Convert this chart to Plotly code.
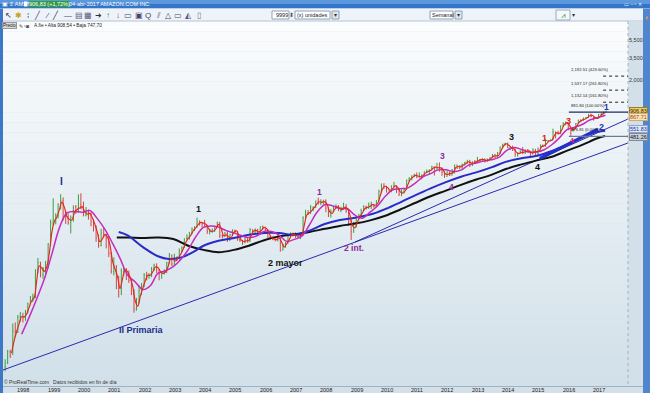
import math
import pandas as pd
import plotly.graph_objects as go

# ---------------- DATA ----------------
# monthly bars, Jun-1997 .. Apr-2017 (split adjusted prices)
bar_close = [
    1.55, 2.05, 1.90, 3.45, 3.35, 4.95, 5.02,
    4.9, 5.7, 6.9, 7.9, 8.2, 16.3, 19.6, 14.4, 16.9, 18.7, 31.5, 53.5,
    58.5, 64.5, 86.0, 94.5, 62.7, 62.6, 54.0, 61.3, 79.6, 70.6, 85.1, 76.1,
    64.6, 68.9, 67.0, 55.2, 48.3, 36.3, 30.1, 41.5, 38.4, 36.0, 24.8, 15.6,
    17.3, 10.2, 10.2, 15.8, 16.7, 14.2, 12.5, 8.9, 6.0, 7.0, 9.7, 10.8,
    14.2, 14.1, 14.3, 16.7, 18.2, 16.3, 14.8, 14.9, 15.9, 19.4, 23.4, 18.9,
    21.9, 22.0, 26.0, 28.7, 35.9, 36.3, 41.6, 46.0, 48.4, 54.4, 54.0, 52.6,
    50.4, 43.0, 43.3, 43.6, 48.5, 54.4, 38.9, 38.1, 40.9, 34.1, 39.7, 44.3,
    43.2, 35.2, 34.3, 32.4, 35.5, 33.1, 45.0, 42.7, 45.3, 39.9, 48.5, 47.2,
    45.2, 37.4, 36.5, 35.2, 34.6, 38.7, 26.9, 30.8, 32.1, 38.1, 40.3, 39.5,
    37.7, 39.1, 39.8, 61.3, 69.1, 68.4, 78.5, 79.9, 93.2, 89.2, 90.6, 92.6,
    77.7, 64.5, 71.3, 78.6, 81.6, 73.3, 76.3, 81.0, 72.8, 57.2, 42.7, 51.3,
    58.8, 64.8, 73.4, 80.5, 77.9, 83.7, 85.8, 81.2, 93.4, 118.8, 135.9, 134.5,
    125.4, 118.4, 135.8, 137.1, 125.5, 109.3, 117.9, 124.8, 157.1, 165.2, 175.4, 180.0,
    169.6, 173.3, 180.1, 196.7, 196.7, 204.5, 222.5, 215.0, 216.2, 213.5, 192.3, 173.1,
    194.4, 179.7, 202.5, 231.9, 212.9, 228.4, 233.3, 248.3, 254.3, 232.9, 252.1, 250.9,
    265.5, 264.3, 266.5, 253.8, 269.2, 277.7, 301.2, 281.0, 312.6, 364.0, 393.6, 398.8,
    358.7, 362.1, 336.4, 304.1, 312.6, 324.8, 313.0, 339.0, 322.4, 305.5, 338.6, 310.4,
    354.5, 380.2, 372.1, 421.8, 429.2, 434.1, 536.2, 512.9, 511.9, 625.9, 664.8, 675.9,
    587.0, 552.5, 593.6, 659.6, 722.8, 715.6, 758.8, 769.2, 837.3, 789.8, 750.6, 749.9,
    823.5, 845.0, 886.5, 906.83,
]
bar_high = [
    1.7, 2.15, 2.15, 4.2, 4.3, 5.2, 5.6,
    5.5, 5.9, 7.1, 8.4, 8.9, 16.5, 22.0, 20.0, 17.5, 20.5, 32.0, 58.0,
    99.6, 68.0, 87.5, 110.6, 102.0, 72.5, 68.0, 64.5, 83.3, 84.0, 110.0, 113.0,
    91.5, 80.0, 75.0, 70.0, 59.0, 50.0, 40.0, 46.0, 47.0, 41.0, 38.5, 25.5,
    22.4, 18.4, 14.0, 16.9, 17.2, 17.0, 16.0, 13.0, 10.0, 8.0, 11.0, 11.7,
    15.0, 15.5, 15.0, 17.5, 19.0, 19.2, 16.5, 15.8, 16.5, 20.0, 25.0, 24.0,
    24.5, 23.0, 28.0, 29.5, 36.0, 40.0, 42.5, 47.5, 49.0, 61.0, 57.0, 54.0,
    57.8, 51.0, 46.0, 46.5, 49.5, 54.9, 54.5, 40.0, 42.5, 43.5, 40.5, 45.5,
    45.0, 43.5, 36.5, 34.5, 38.0, 36.5, 47.0, 45.5, 46.5, 46.0, 49.0, 50.0,
    48.5, 45.5, 38.0, 38.0, 36.0, 39.0, 39.0, 31.5, 33.0, 38.5, 42.0, 42.0,
    42.0, 41.5, 40.5, 63.0, 74.5, 74.0, 84.0, 81.0, 93.5, 101.0, 97.0, 96.0,
    97.0, 79.0, 75.5, 82.0, 85.5, 84.0, 80.5, 89.0, 86.0, 73.0, 58.0, 55.0,
    60.0, 67.0, 76.5, 83.5, 82.5, 89.5, 91.5, 86.0, 94.5, 124.0, 145.0, 145.9,
    136.6, 122.0, 138.0, 151.0, 139.0, 129.0, 125.0, 128.0, 160.0, 170.0, 177.5, 185.0,
    191.6, 191.5, 182.0, 197.0, 206.4, 206.0, 227.0, 220.0, 244.0, 246.7, 218.0, 195.0,
    197.0, 196.0, 209.0, 232.0, 232.0, 229.0, 240.0, 250.0, 264.0, 264.0, 254.0, 262.0,
    284.0, 270.0, 276.0, 274.0, 272.0, 283.0, 305.0, 305.0, 322.0, 369.0, 394.0, 405.6,
    408.0, 365.0, 378.0, 349.0, 315.0, 336.0, 365.0, 343.0, 347.0, 321.0, 353.0, 348.0,
    358.0, 389.0, 389.0, 452.0, 434.0, 441.0, 580.0, 539.0, 550.0, 627.0, 679.0, 696.0,
    675.0, 596.0, 596.0, 669.0, 724.0, 731.0, 767.0, 774.0, 839.0, 847.0, 791.0, 781.0,
    843.0, 860.0, 890.0, 908.54,
]
bar_low = [
    1.25, 1.5, 1.75, 1.9, 3.0, 3.3, 4.4,
    4.3, 4.5, 5.4, 6.9, 7.2, 8.0, 15.0, 13.5, 13.0, 13.5, 16.8, 30.0,
    50.0, 51.5, 60.0, 75.0, 57.0, 52.0, 51.0, 41.0, 55.0, 67.0, 69.0, 75.5,
    63.0, 63.0, 58.0, 49.0, 43.0, 33.0, 28.5, 29.5, 37.0, 28.0, 22.5, 14.8,
    14.2, 10.0, 8.1, 8.6, 14.0, 12.6, 11.7, 8.6, 5.5, 5.8, 7.0, 8.6,
    10.5, 12.5, 13.0, 13.5, 16.0, 15.0, 12.5, 13.0, 14.5, 15.0, 19.0, 18.0,
    18.5, 20.5, 21.0, 25.5, 28.5, 35.0, 35.0, 40.0, 43.5, 47.5, 50.0, 47.5,
    48.0, 40.5, 40.0, 41.5, 42.5, 48.0, 36.5, 36.0, 37.5, 33.0, 34.0, 39.0,
    41.5, 34.0, 33.0, 30.6, 32.0, 32.5, 33.0, 41.5, 41.5, 38.5, 39.5, 45.5,
    43.5, 36.5, 35.0, 34.5, 33.5, 33.5, 25.8, 26.5, 28.5, 31.5, 37.0, 38.0,
    36.5, 36.5, 35.5, 40.5, 60.0, 65.5, 67.0, 72.0, 78.0, 85.0, 84.0, 85.0,
    70.0, 62.0, 61.0, 70.5, 76.5, 72.0, 70.0, 75.0, 69.0, 49.5, 34.7, 41.5,
    47.5, 59.0, 61.0, 72.0, 75.0, 76.5, 76.0, 78.5, 79.5, 92.0, 114.0, 126.5,
    115.0, 113.0, 116.0, 134.0, 114.0, 105.8, 105.0, 113.0, 123.0, 152.0, 157.0, 170.0,
    166.0, 169.5, 160.6, 176.0, 188.5, 181.0, 201.0, 177.0, 204.5, 195.0, 176.0, 167.0,
    172.0, 175.0, 177.0, 186.0, 210.0, 208.0, 211.0, 228.0, 239.0, 219.0, 225.0, 241.0,
    250.0, 251.0, 251.0, 246.0, 251.0, 265.0, 277.0, 278.0, 282.0, 306.0, 352.0, 380.0,
    354.0, 339.0, 330.0, 284.0, 285.0, 311.0, 304.0, 307.0, 316.0, 284.0, 303.0, 298.0,
    285.0, 350.0, 367.0, 368.0, 420.0, 422.0, 430.0, 452.0, 497.0, 505.0, 608.0, 632.0,
    556.0, 474.0, 538.0, 585.0, 656.0, 682.0, 713.0, 752.0, 762.0, 774.0, 710.0, 740.0,
    753.0, 803.0, 833.0, 884.0,
]
first_open = 1.40

# short moving average (red), month ends Aug-1997 .. Apr-2017
red_ma = [
    1.98, 2.68, 3.40, 4.15, 4.99,
    4.96, 5.30, 6.30, 7.40, 8.05, 12.3, 18.0, 17.0, 15.7, 17.8, 25.1, 42.5,
    56.0, 61.5, 75.3, 90.3, 78.6, 62.7, 58.3, 57.7, 70.5, 75.1, 77.9, 80.6,
    70.4, 66.8, 68.0, 61.1, 51.8, 42.3, 33.2, 35.8, 40.0, 37.2, 30.4, 20.2,
    16.5, 13.8, 10.2, 13.0, 16.3, 15.5, 13.4, 10.7, 7.45, 6.50, 8.35, 10.3,
    12.5, 14.2, 14.2, 15.5, 17.5, 17.3, 15.6, 14.9, 15.4, 17.7, 21.4, 21.2,
    20.4, 22.0, 24.0, 27.4, 32.3, 36.1, 39.0, 43.8, 47.2, 51.4, 54.2, 53.3,
    51.5, 46.7, 43.2, 43.5, 46.1, 51.5, 46.7, 38.5, 39.5, 37.5, 36.9, 42.0,
    43.8, 39.2, 34.8, 33.4, 34.0, 34.3, 39.1, 43.9, 44.0, 42.6, 44.2, 47.9,
    46.2, 41.3, 37.0, 35.9, 34.9, 36.7, 32.8, 28.9, 31.5, 35.1, 39.2, 39.9,
    38.6, 38.4, 39.5, 50.6, 65.2, 68.8, 73.5, 79.2, 86.6, 91.2, 89.9, 91.6,
    85.2, 71.1, 67.9, 75.0, 80.1, 77.5, 74.8, 78.7, 76.9, 65.0, 50.0, 47.0,
    55.1, 61.8, 69.1, 77.0, 79.2, 80.8, 84.8, 83.5, 87.3, 106.1, 127.4, 135.2,
    130.0, 121.9, 127.1, 136.5, 131.3, 117.4, 113.6, 121.4, 141.0, 161.2, 170.3, 177.7,
    174.8, 171.5, 176.7, 188.4, 196.7, 200.6, 213.5, 218.8, 215.6, 214.9, 202.9, 182.7,
    183.8, 187.1, 191.1, 217.2, 222.4, 220.7, 230.9, 240.8, 251.3, 243.6, 242.5, 251.5,
    258.2, 264.9, 265.4, 260.2, 261.5, 273.5, 289.5, 291.1, 296.8, 338.3, 378.8, 396.2,
    378.8, 360.4, 349.3, 320.3, 308.4, 318.7, 318.9, 326.0, 330.7, 314.0, 322.1, 324.5,
    332.5, 367.4, 376.2, 397.0, 425.5, 431.7, 485.2, 524.6, 512.4, 568.9, 645.4, 670.4,
    631.5, 569.8, 573.1, 626.6, 691.2, 719.2, 737.2, 764.0, 803.3, 813.6, 770.2, 750.3,
    786.7, 834.3, 865.8, 870.0,
]

# medium moving average (magenta), quarter ends Dec-1997 .. Mar-2017, then Apr-2017
magenta_ma = [
    3.2, 4.9, 7.8, 12.9, 24.4,
    47.1, 68.9, 71.5, 69.9,
    73.1, 59.5, 45.3, 31.8,
    21.8, 14.3, 12.0, 9.9,
    10.9, 14.9, 15.9, 17.7,
    21.1, 27.1, 37.6, 47.6,
    49.4, 48.0, 44.0, 41.5,
    38.8, 36.9, 38.3, 43.1,
    42.9, 39.3, 33.5, 35.2,
    38.1, 50.7, 70.0, 84.6,
    82.7, 77.1, 76.4, 64.9,
    60.1, 70.1, 82.3, 104.8,
    123.2, 126.6, 129.6, 147.1,
    171.5, 185.8, 204.5, 205.3,
    196.0, 203.3, 230.2, 242.9,
    255.2, 264.0, 280.3, 332.7,
    360.9, 342.5, 321.8, 322.0,
    340.5, 386.0, 459.7, 566.0,
    601.7, 643.9, 722.4, 767.3,
    811.8, 822.0,
]

# long weighted moving average (blue)
blue_dates = ["2001-03-15", "2001-07-01", "2002-01-01", "2002-07-01", "2002-11-07",
              "2003-04-20", "2003-09-12", "2004-01-01", "2004-07-01", "2005-01-01",
              "2005-07-01", "2006-01-01", "2006-07-01", "2007-01-01", "2007-07-01",
              "2008-01-01", "2008-07-01", "2009-01-01", "2009-07-01", "2010-01-01",
              "2010-07-01", "2011-01-01", "2011-07-01", "2012-01-01", "2012-07-01",
              "2013-01-01", "2013-07-01", "2014-01-01", "2014-07-01", "2015-01-01",
              "2015-07-01", "2016-01-01", "2016-07-01", "2017-01-01", "2017-04-04"]
blue_ma = [42.5, 39.0, 29.0, 23.0, 21.5, 22.5, 26.0, 30.0, 34.0, 36.5,
           39.5, 41.5, 41.5, 39.5, 44.0, 52.0, 57.5, 61.0, 66.0, 76.0,
           90.0, 108.0, 128.0, 150.0, 172.0, 192.0, 218.0, 252.0, 275.0, 292.0,
           330.0, 390.0, 465.0, 535.0, 551.83]

# long simple moving average (black)
black_dates = ["2001-02-20", "2001-07-01", "2002-01-01", "2002-07-01", "2003-01-01",
               "2003-07-01", "2004-01-01", "2004-07-01", "2005-01-01", "2005-07-01",
               "2006-01-01", "2006-07-01", "2007-01-01", "2007-07-01", "2008-01-01",
               "2008-07-01", "2009-01-01", "2009-07-01", "2010-01-01", "2010-07-01",
               "2011-01-01", "2011-07-01", "2012-01-01", "2012-07-01", "2013-01-01",
               "2013-07-01", "2014-01-01", "2014-07-01", "2015-01-01", "2015-07-01",
               "2016-01-01", "2016-07-01", "2017-01-01", "2017-04-04"]
black_ma = [37.0, 37.0, 36.5, 37.0, 35.5, 30.0, 27.0, 25.5, 27.0, 30.0,
            34.5, 38.0, 40.0, 42.5, 46.0, 49.5, 52.5, 57.0, 64.0, 75.0,
            89.0, 105.0, 121.0, 140.0, 160.0, 180.0, 210.0, 235.0, 260.0, 285.0,
            333.0, 385.0, 455.0, 481.26]

# hand drawn trend lines (two end points each)
trend_primary = (["1997-05-20", "2018-01-04"], [1.292, 403.6])
trend_intermediate = (["2009-01-01", "2018-01-04"], [32.96, 740.5])
trend_thick = (["2015-02-06", "2017-01-08"], [272.7, 573.8])

# fibonacci extension levels
fib_levels = [476.81, 881.84, 1132.14, 1537.17, 2192.51]
fib_pct = ["0.00%", "100.00%", "161.80%", "261.80%", "423.60%"]

# price-axis tick labels
y_tick_vals = [2000, 3500, 5500]
y_tick_text = ["2,000", "3,500", "5,500"]
year_labels = [str(y) for y in range(1998, 2018)]

last_price = 906.83
red_last_label = "867.71"
blue_last = 551.83
black_last = 481.26

# ---------------- derived x positions ----------------
bar_dates = pd.date_range("1997-06-01", periods=len(bar_close), freq="MS") + pd.Timedelta(days=14)
bar_open = [first_open] + bar_close[:-1]
red_dates = list(pd.date_range("1997-09-01", periods=len(red_ma) - 1, freq="MS") - pd.Timedelta(days=1)) + [pd.Timestamp("2017-04-04")]
mag_dates = list(pd.date_range("1998-01-01", periods=len(magenta_ma) - 1, freq="QS") - pd.Timedelta(days=1)) + [pd.Timestamp("2017-04-04")]

# ---------------- figure ----------------
W, H = 650, 393
L, R, T, B = 3, 628, 21, 386


def PX(px):
    return (px - L) / (R - L)


def PY(py):
    return (B - py) / (B - T)


fig = go.Figure()

fig.add_trace(go.Ohlc(
    x=bar_dates, open=bar_open, high=bar_high, low=bar_low, close=bar_close,
    increasing=dict(line=dict(color="#3d9f3d", width=1)),
    decreasing=dict(line=dict(color="#d24848", width=1)),
    tickwidth=0.25, hoverinfo="skip"))

line_color = "#2a2ab0"
fig.add_trace(go.Scatter(x=trend_primary[0], y=trend_primary[1], mode="lines",
                         line=dict(color=line_color, width=1), hoverinfo="skip"))
fig.add_trace(go.Scatter(x=trend_intermediate[0], y=trend_intermediate[1], mode="lines",
                         line=dict(color=line_color, width=1), hoverinfo="skip"))
fig.add_trace(go.Scatter(x=black_dates, y=black_ma, mode="lines", line_shape="spline",
                         line=dict(color="#111111", width=2), hoverinfo="skip"))
fig.add_trace(go.Scatter(x=blue_dates, y=blue_ma, mode="lines", line_shape="spline",
                         line=dict(color="#2b2bc8", width=2), hoverinfo="skip"))
fig.add_trace(go.Scatter(x=trend_thick[0], y=trend_thick[1], mode="lines",
                         line=dict(color="#2430c8", width=3.2), hoverinfo="skip"))
fig.add_trace(go.Scatter(x=mag_dates, y=magenta_ma, mode="lines", line_shape="spline",
                         line=dict(color="#c42cc0", width=1.5), hoverinfo="skip"))
fig.add_trace(go.Scatter(x=red_dates, y=red_ma, mode="lines", line_shape="spline",
                         line=dict(color="#e5261a", width=1.15), hoverinfo="skip"))

shapes = []
annotations = []

# plot background gradient
N = 36
c0 = (251, 252, 253)
c1 = (209, 224, 233)
for i in range(N):
    f = i / (N - 1)
    col = "rgb(%d,%d,%d)" % tuple(round(c0[k] + (c1[k] - c0[k]) * f) for k in range(3))
    shapes.append(dict(type="rect", xref="paper", yref="paper", x0=0, x1=1,
                       y0=1 - (i + 1) / N, y1=1 - i / N, fillcolor=col,
                       line=dict(width=0), layer="below"))


# window chrome
def rect(x0, y0, x1, y1, fill, line=None, lw=0, layer="above"):
    shapes.append(dict(type="rect", xref="paper", yref="paper",
                       x0=PX(x0), x1=PX(x1), y0=PY(y1), y1=PY(y0),
                       fillcolor=fill, line=dict(color=line or fill, width=lw), layer=layer))


rect(0, 0, 650, 4, "#5b98de")
rect(0, 4, 650, 8.5, "#3475c8")
rect(0, 8.5, 650, 21, "#eef3f9")
shapes.append(dict(type="line", xref="paper", yref="paper", x0=PX(0), x1=PX(650),
                   y0=PY(21), y1=PY(21), line=dict(color="#b4c4d4", width=1)))
rect(0, 8.5, 3, 393, "#3d78c6")
rect(628, 21, 643, 386, "#d3e0e9")
rect(643, 8.5, 650, 393, "#4f86cd")
shapes.append(dict(type="line", xref="paper", yref="paper", x0=PX(628), x1=PX(628),
                   y0=PY(21), y1=PY(386), line=dict(color="#9fb3c5", width=1, dash="dot")))
shapes.append(dict(type="line", xref="paper", yref="paper", x0=PX(3), x1=PX(643),
                   y0=PY(386.5), y1=PY(386.5), line=dict(color="#9fb3c5", width=1)))

FONT = "Liberation Sans, Arial, sans-serif"


def txt(px, py, s, size=6, color="#000", anchor="left", bg=None, border=None, bold=False, pad=0):
    annotations.append(dict(xref="paper", yref="paper", x=PX(px), y=PY(py), text=("<b>%s</b>" % s) if bold else s,
                            showarrow=False, xanchor=anchor, yanchor="middle",
                            font=dict(family=FONT, size=size, color=color),
                            bgcolor=bg, bordercolor=border, borderwidth=1 if border else 0, borderpad=pad))


# title bar
txt(2, 4, "▣ ≡ AMZN", 6, "#ffffff")
rect(24, 1.5, 27.5, 6.5, "#ffffff")
txt(29, 4.2, "906,83 (+1,72%)", 5.5, "#ffffff", bg="#2f9d3c", pad=0)
txt(69, 4.2, "04-abr-2017 AMAZON.COM INC.", 5.5, "#ffffff")
txt(624, 4.2, "▭ – ▫ ✕", 5, "#eaf2ff")

# toolbar icons
icons = [(8, "↖", "#333"), (18, "✱", "#c9a020"), (28, "⁞", "#335"), (37, "╱", "#446"),
         (47, "⁄", "#446"), (55, "╱", "#335"), (68, "—", "#446"), (79, "▤", "#557"),
         (88, "▦", "#557"), (99, "➜", "#333"), (108, "↑", "#2e9e3e"), (118, "↓", "#d02828"),
         (128, "▭", "#446"), (139, "▣", "#446"), (148, "Q", "#446"), (158, "⫽", "#557"),
         (168, "△", "#446"), (178, "▭", "#446"), (188, "◭", "#557"), (199, "▯", "#777")]
for x, s, c in icons:
    txt(x, 15, s, 8, c, anchor="center")

rect(272, 11, 289, 19, "#ffffff", "#8fa2b5", 1)
txt(288, 15, "9999", 5.5, "#222", anchor="right")
txt(291, 15, "⬍", 6, "#555", anchor="center")
rect(295, 11, 330, 19, "#ffffff", "#8fa2b5", 1)
txt(297, 15, "(x) unidades", 5.5, "#222")
rect(332, 11, 339, 19, "#dfe6ee", "#8fa2b5", 1)
txt(335.5, 15, "▾", 6, "#333", anchor="center")
rect(430, 11, 453, 19, "#ffffff", "#8fa2b5", 1)
txt(432, 15, "Semanal", 5.5, "#222")
rect(455, 11, 462, 19, "#dfe6ee", "#8fa2b5", 1)
txt(458.5, 15, "▾", 6, "#333", anchor="center")
rect(556, 10, 570, 20, "#f4f7fb", "#9aaabb", 1)
txt(563, 15, "⩘", 8, "#2e9e3e", anchor="center")
txt(573, 15, "▾", 6, "#333", anchor="center")
txt(646.5, 17, "◐", 7, "#f0a040", anchor="center")

# Precio row
txt(1.5, 25.5, "Precio", 4.5, "#111", bg="#dcdcdc", border="#999")
txt(19, 25.5, "✎◔◙", 5, "#444")
txt(34, 25.5, "A.fie • Alta 908,54 • Baja 747,70", 4.8, "#222")

# copyright
txt(4, 382, "© ProRealTime.com   Datos recibidos en fin de día", 5, "#333")

# year labels on the time axis
for ylab in year_labels:
    annotations.append(dict(xref="x", yref="paper", x="%s-01-20" % ylab, y=PY(389.7), text=ylab,
                            showarrow=False, xanchor="center", yanchor="middle",
                            font=dict(family=FONT, size=5.5, color="#222")))

# price axis labels
for v, s in zip(y_tick_vals, y_tick_text):
    annotations.append(dict(xref="paper", yref="y", x=PX(636), y=math.log10(v), text=s,
                            showarrow=False, xanchor="center", yanchor="middle",
                            font=dict(family=FONT, size=5.5, color="#333")))


def value_label(v, text, fg, bg, border, dy=0):
    annotations.append(dict(xref="paper", yref="y", x=PX(629), y=math.log10(v), yshift=dy,
                            text=text, showarrow=False, xanchor="left", yanchor="middle",
                            font=dict(family=FONT, size=5.5, color=fg),
                            bgcolor=bg, bordercolor=border, borderwidth=1, borderpad=0))


value_label(last_price, "%.2f" % last_price, "#222", "#f0cf62", "#9c7e22")
value_label(last_price, red_last_label, "#b83030", "#f5e6b4", "#c9b06a", dy=-6)
value_label(blue_last, "%.2f" % blue_last, "#2030b0", "#dfe8f2", "#8fa3c8", dy=2)
value_label(black_last, "%.2f" % black_last, "#111", "#c8d2dc", "#7d8a96", dy=-1)

# fibonacci extension lines
fib_x0 = "2016-01-22"
fib_x1 = "2018-01-04"
fib_dash_x0 = "2017-03-10"
for lvl, pct in zip(fib_levels, fib_pct):
    if pct == "100.00%":
        shapes.append(dict(type="line", xref="x", yref="y", x0=fib_x0, x1=fib_x1, y0=lvl, y1=lvl,
                           line=dict(color="#1c2a70", width=1.4)))
    elif pct == "0.00%":
        shapes.append(dict(type="line", xref="x", yref="y", x0=fib_x0, x1=fib_x1, y0=lvl, y1=lvl,
                           line=dict(color="#6c7c90", width=1.2)))
    else:
        shapes.append(dict(type="line", xref="x", yref="y", x0=fib_dash_x0, x1=fib_x1, y0=lvl, y1=lvl,
                           line=dict(color="#222", width=1, dash="dot")))
    annotations.append(dict(xref="x", yref="y", x=fib_x0, y=math.log10(lvl), yshift=2,
                            text="{:,.2f} ({})".format(lvl, pct), showarrow=False,
                            xanchor="left", yanchor="bottom",
                            font=dict(family=FONT, size=4.2, color="#222")))

# wave labels
waves = [
    ("I", "1999-05-01", 150.5, "#1c2c8c", 10),
    ("II Primaria", "2001-12-10", 3.56, "#1c2c8c", 9),
    ("1", "2003-10-27", 75.9, "#111111", 9),
    ("2 mayor", "2006-09-10", 19.4, "#111111", 9),
    ("1", "2007-11-03", 116.8, "#8a2c98", 8.5),
    ("2 int.", "2008-12-20", 28.3, "#8a2c98", 8.5),
    ("3", "2011-11-24", 290.4, "#8a2c98", 8.5),
    ("4", "2012-03-14", 132.6, "#8a2c98", 8.5),
    ("3", "2014-02-24", 469.7, "#111111", 9),
    ("4", "2015-01-05", 219.8, "#111111", 9),
    ("1", "2015-03-29", 458.0, "#d42020", 9),
    ("3", "2016-01-12", 704.0, "#d42020", 9),
    ("4", "2016-03-01", 424.6, "#d42060", 7),
    ("1", "2017-04-20", 1000.0, "#2233b0", 8.5),
    ("2", "2017-02-20", 610.0, "#2233b0", 9),
]
for s, d, p, c, fs in waves:
    annotations.append(dict(xref="x", yref="y", x=d, y=math.log10(p), text="<b>%s</b>" % s,
                            showarrow=False, xanchor="center", yanchor="middle",
                            font=dict(family=FONT, size=fs, color=c)))

fig.update_layout(
    width=W, height=H,
    margin=dict(l=L, r=W - R, t=T, b=H - B, pad=0),
    paper_bgcolor="#d3e0e9",
    plot_bgcolor="rgba(0,0,0,0)",
    showlegend=False,
    hovermode=False,
    xaxis=dict(type="date", range=["1997-05-20", "2018-01-04"], showgrid=False, zeroline=False,
               showticklabels=False, ticks="", showline=False, rangeslider=dict(visible=False)),
    yaxis=dict(type="log", range=[-0.06445, 3.94654], showgrid=False, zeroline=False,
               showticklabels=False, ticks="", showline=False),
    shapes=shapes,
    annotations=annotations,
)

fig.write_html("out.html")
